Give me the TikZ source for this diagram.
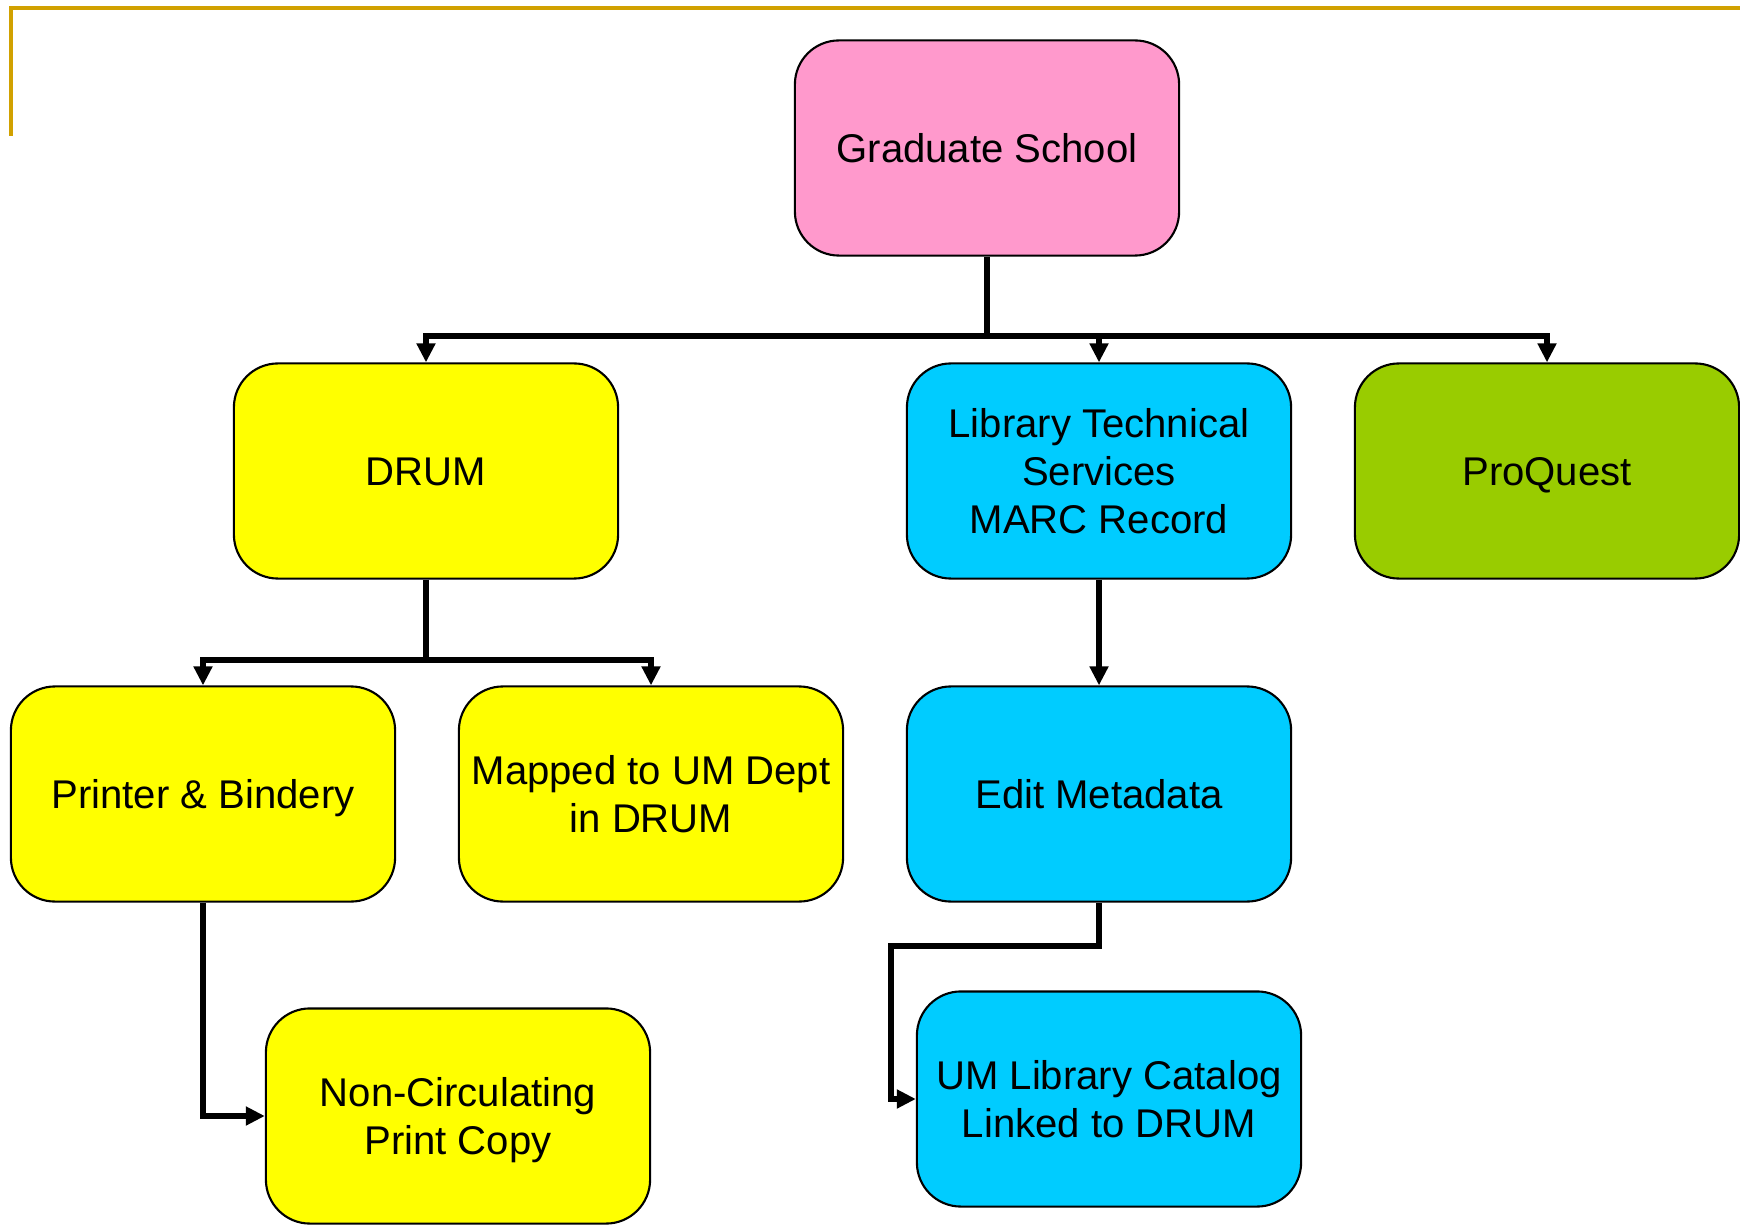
\documentclass[tikz,border=0pt]{standalone}
\usepackage{fontspec}
\setmainfont{Liberation Sans}
\usetikzlibrary{arrows.meta}

\definecolor{gsPink}{RGB}{255,153,204}
\definecolor{gsYellow}{RGB}{255,255,0}
\definecolor{gsCyan}{RGB}{0,204,255}
\definecolor{gsGreen}{RGB}{153,204,0}
\definecolor{gsGold}{RGB}{209,161,0}

\tikzset{
	top strut/.initial=0.97em,
	box/.style={draw,line width=0.6pt,rounded corners=0.44cm,minimum width=3.84cm,
		minimum height=2.15cm,align=center,inner sep=0pt,
		font=\fontsize{11.4}{13.6}\selectfont,
		execute at begin node={\rule{0pt}{\dimexpr\pgfkeysvalueof{/tikz/top strut}\relax}},
		execute at end node={\rule[-0.25em]{0pt}{0.25em}}},
	twolines/.style={top strut=13.6pt+0.97em},
	threelines/.style={top strut=27.2pt+0.97em},
	conn/.style={line width=1.5pt},
	arr/.style={conn,-{Triangle[length=0.19cm,width=0.18cm]}}
}

\begin{document}
\begin{tikzpicture}[x=0.01cm,y=-0.01cm]
	\useasboundingbox (0,0) rectangle (1740,1225);
	
	% frame corner
	\draw[gsGold,line width=1.2pt] (11,136) -- (11,8) -- (1740,8);
	
	% boxes
	\node[box,fill=gsPink]   (grad)     at (987,148)  {Graduate School};
	\node[box,fill=gsYellow] (drum)     at (426,471)  {DRUM};
	\node[box,threelines,fill=gsCyan] (lts) at (1099,471) {Library Technical\\Services\\MARC Record};
	\node[box,fill=gsGreen]  (proquest) at (1547,471) {ProQuest};
	\node[box,fill=gsYellow] (printer)  at (203,794)  {Printer \& Bindery};
	\node[box,twolines,fill=gsYellow] (mapped) at (651,794) {Mapped to UM Dept\\in DRUM};
	\node[box,fill=gsCyan]   (edit)     at (1099,794) {Edit Metadata};
	\node[box,twolines,fill=gsYellow] (noncirc) at (458,1116) {Non-Circulating\\Print Copy};
	\node[box,twolines,fill=gsCyan] (catalog) at (1109,1099) {UM Library Catalog\\Linked to DRUM};
	
	% branch points
	\coordinate (bus)   at (987,336);
	\coordinate (split) at (426,660);
	\coordinate (bend)  at (891,946);
	
	%arrows
	\draw[conn] (grad.south) -- (bus);
	\draw[arr] (bus) -| (drum.north);
	\draw[arr] (bus) -| (lts.north);
	\draw[arr] (bus) -| (proquest.north);
	
	\draw[conn] (drum.south) -- (split);
	\draw[arr] (split) -| (printer.north);
	\draw[arr] (split) -| (mapped.north);
	
	\draw[arr] (lts.south) -- (edit.north);
	\draw[arr] (printer.south) |- (noncirc.west);
	\draw[arr] (edit.south) |- (bend) |- (catalog.west);
	
\end{tikzpicture}
\end{document}
